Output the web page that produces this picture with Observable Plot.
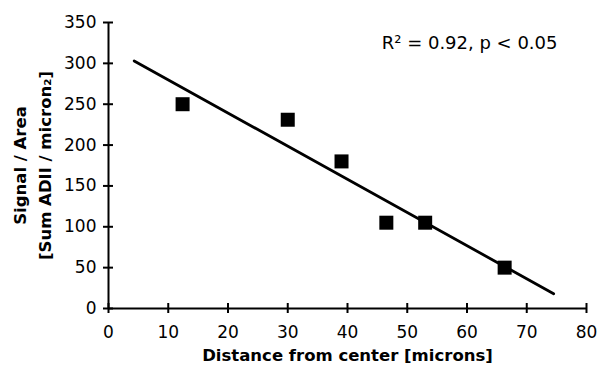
<!DOCTYPE html>
<html>
<head>
<meta charset="utf-8">
<script src="https://cdn.jsdelivr.net/npm/d3@7"></script>
<script src="https://cdn.jsdelivr.net/npm/@observablehq/plot@0.6"></script>
<style>
  html, body { margin: 0; padding: 0; background: #fff; }
</style>
</head>
<body>
<div id="chart"></div>
<script>
// Data
const distance = [12.4, 30.0, 39.0, 46.5, 53.0, 66.3];
const signal = [250, 231, 180, 105, 105, 50];
const fitX = [4.3, 74.5];
const fitY = [303, 18];
const xTicks = [0, 10, 20, 30, 40, 50, 60, 70, 80];
const yTicks = [0, 50, 100, 150, 200, 250, 300, 350];
const xTitle = "Distance from center [microns]";
const yTitle = "Signal / Area\n[Sum ADII / micron\u2082]";
const stats = "R\u00B2 = 0.92, p < 0.05";

const points = distance.map((d, i) => ({x: d, y: signal[i]}));
const fit = fitX.map((d, i) => ({x: d, y: fitY[i]}));

const chart = Plot.plot({
  width: 599,
  height: 368,
  marginLeft: 108,
  marginRight: 13,
  marginTop: 22,
  marginBottom: 60,
  style: {fontFamily: "'DejaVu Sans', 'Liberation Sans', sans-serif", fontSize: "17px", background: "#fff", color: "#000"},
  x: {domain: [0, 80]},
  y: {domain: [0, 350]},
  marks: [
    Plot.axisX({ticks: xTicks, tickSize: 10, tickPadding: 12, dy: -5, strokeWidth: 2, label: null, fontSize: 17}),
    Plot.axisY({ticks: yTicks, tickSize: 10, tickPadding: 7, dx: 5, strokeWidth: 2, label: null, fontSize: 17}),
    Plot.ruleX([0], {strokeWidth: 2}),
    Plot.ruleY([0], {strokeWidth: 2}),
    Plot.line(fit, {x: "x", y: "y", stroke: "#000", strokeWidth: 2.8}),
    Plot.dot(points, {x: "x", y: "y", symbol: "square", r: 7.9, fill: "#000", stroke: "none"}),
    Plot.text([stats], {frameAnchor: "top-right", text: d => d, dx: -29, dy: 21, fontSize: 18, textAnchor: "end", lineAnchor: "middle"}),
    Plot.text([xTitle], {frameAnchor: "bottom", text: d => d, dy: 47, fontSize: 16.5, fontWeight: "bold", lineAnchor: "middle", textAnchor: "middle"}),
    Plot.text([yTitle], {frameAnchor: "left", text: d => d, dx: -78, rotate: -90, fontSize: 16.5, fontWeight: "bold", lineHeight: 1.52, lineAnchor: "middle", textAnchor: "middle"})
  ]
});
document.getElementById("chart").appendChild(chart);
</script>
</body>
</html>
